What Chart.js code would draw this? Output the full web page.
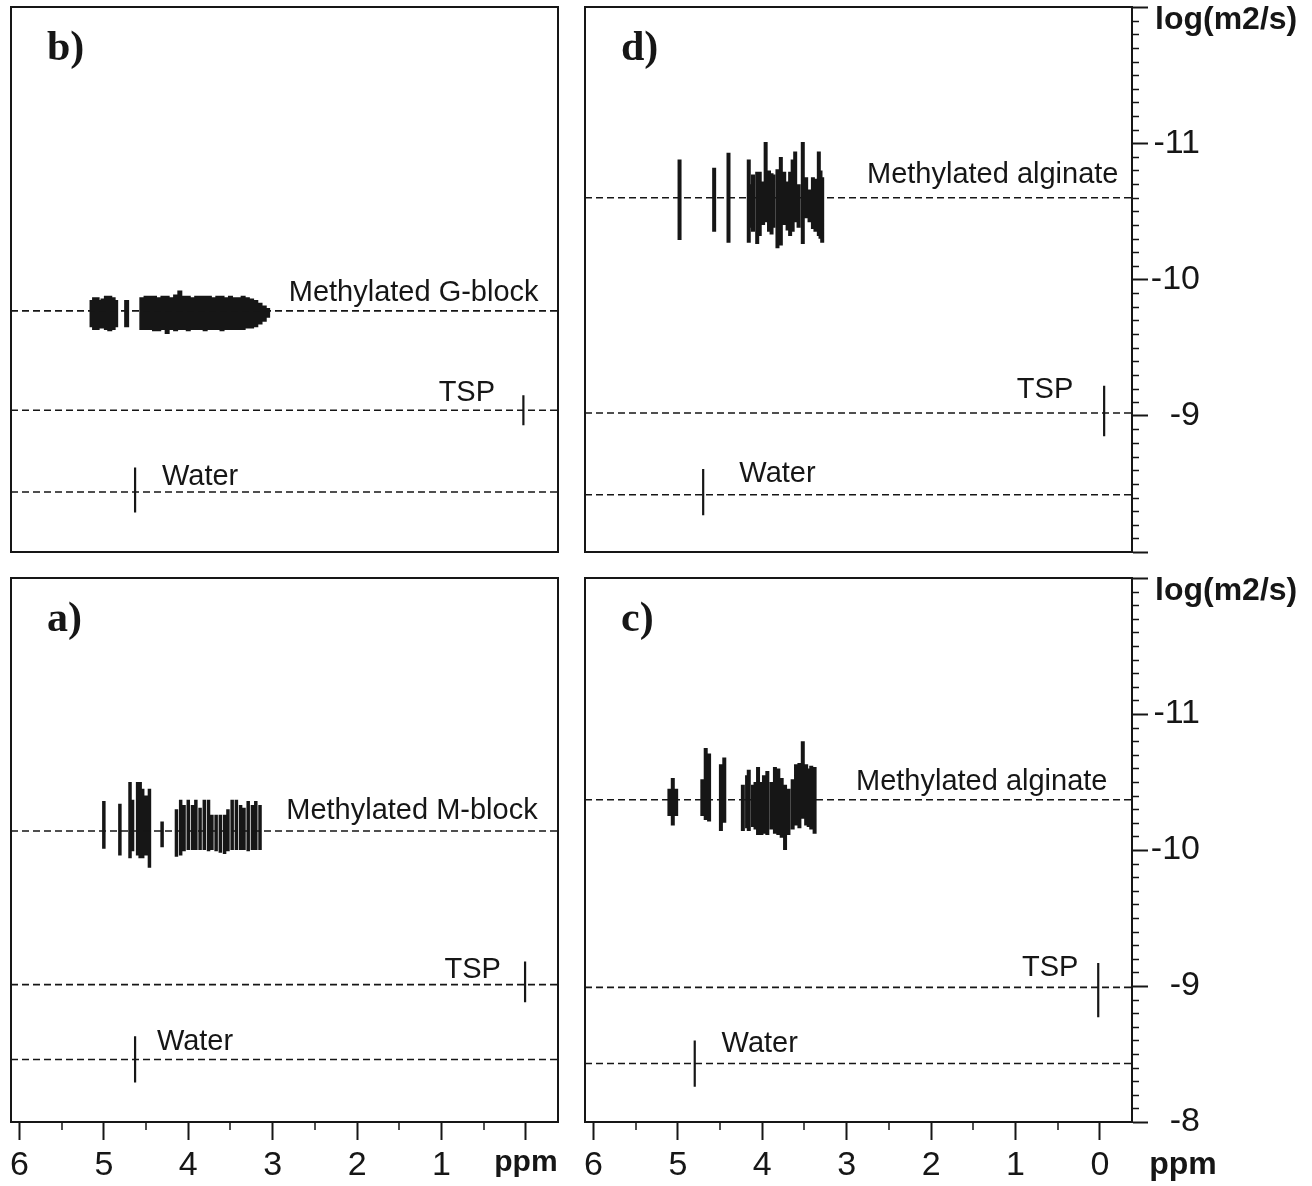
<!DOCTYPE html>
<html>
<head>
<meta charset="utf-8">
<script src="https://cdn.jsdelivr.net/npm/chart.js@4.4.0/dist/chart.umd.min.js"></script>
<style>
  html, body { margin: 0; padding: 0; background: #fff; }
  #wrap { position: relative; width: 1312px; height: 1186px; overflow: hidden; background: #fff; }
  canvas { position: absolute; }
</style>
</head>
<body>
<div id="wrap">
  <canvas id="panelB" width="580" height="590" style="left:0;top:-20px"></canvas>
  <canvas id="panelD" width="740" height="600" style="left:572px;top:-20px"></canvas>
  <canvas id="panelA" width="580" height="636" style="left:0;top:550px"></canvas>
  <canvas id="panelC" width="740" height="636" style="left:572px;top:550px"></canvas>
</div>
<script>
// ---------- axes ----------
const PPM_MIN = -0.38, PPM_MAX = 6.1;
const LOGD_MIN = -12, LOGD_MAX = -8;
const MINOR_PPM = [0.5, 1.5, 2.5, 3.5, 4.5, 5.5];

// ---------- b) methylated G-block ----------
const bPpm = [5.14, 5.11, 5.08, 5.05, 5.01, 4.97, 4.93, 4.89, 4.86, 4.73,
  4.55, 4.50, 4.45, 4.40, 4.35, 4.30, 4.25, 4.20, 4.15, 4.10, 4.05, 4.00, 3.95, 3.90, 3.85,
  3.80, 3.75, 3.70, 3.65, 3.60, 3.55, 3.50, 3.45, 3.40, 3.35, 3.30, 3.25, 3.20, 3.15, 3.10, 3.06];
const bTop = [-9.85, -9.87, -9.87, -9.85, -9.86, -9.88, -9.88, -9.87, -9.85, -9.85,
  -9.87, -9.88, -9.88, -9.88, -9.87, -9.88, -9.88, -9.87, -9.89, -9.92, -9.88, -9.88, -9.87, -9.88, -9.88,
  -9.88, -9.88, -9.87, -9.88, -9.88, -9.87, -9.88, -9.87, -9.87, -9.88, -9.87, -9.86, -9.85, -9.83, -9.81, -9.79];
const bBottom = [-9.65, -9.63, -9.63, -9.64, -9.64, -9.63, -9.62, -9.63, -9.65, -9.65,
  -9.63, -9.63, -9.63, -9.62, -9.62, -9.63, -9.60, -9.63, -9.62, -9.63, -9.63, -9.62, -9.63, -9.63, -9.63,
  -9.62, -9.63, -9.63, -9.63, -9.62, -9.63, -9.63, -9.63, -9.63, -9.63, -9.64, -9.64, -9.65, -9.67, -9.69, -9.72];
const bLevels = [-9.77, -9.04, -8.44];
const bRefPpm = [0.03, 4.63];
const bRefTop = [-9.15, -8.62];
const bRefBottom = [-8.93, -8.29];
const bLabels = ["Methylated G-block", "TSP", "Water"];
const bLabelPpm = [1.33, 0.70, 3.86];
const bLabelLogD = [-9.90, -9.17, -8.55];

// ---------- a) methylated M-block ----------
const aPpm = [5.00, 4.81, 4.69, 4.66, 4.60, 4.57, 4.54, 4.50, 4.46, 4.31,
  4.14, 4.09, 4.05, 4.00, 3.95, 3.91, 3.86, 3.81, 3.76, 3.72, 3.67,
  3.62, 3.57, 3.53, 3.48, 3.43, 3.38, 3.34, 3.29, 3.24, 3.20, 3.15];
const aTop = [-10.36, -10.34, -10.50, -10.37, -10.50, -10.50, -10.45, -10.40, -10.45, -10.21,
  -10.30, -10.37, -10.33, -10.37, -10.33, -10.37, -10.31, -10.37, -10.37, -10.26, -10.26,
  -10.26, -10.26, -10.30, -10.37, -10.37, -10.33, -10.31, -10.36, -10.33, -10.36, -10.33];
const aBottom = [-10.01, -9.96, -9.94, -9.99, -9.96, -9.94, -9.94, -9.96, -9.87, -10.02,
  -9.95, -9.96, -9.99, -10.00, -10.00, -10.00, -10.00, -10.00, -9.99, -10.00, -9.99,
  -9.98, -9.97, -9.99, -10.00, -10.00, -10.00, -10.00, -9.99, -10.00, -10.00, -10.00];
const aLevels = [-10.14, -9.01, -8.46];
const aRefPpm = [0.01, 4.63];
const aRefTop = [-9.18, -8.63];
const aRefBottom = [-8.88, -8.29];
const aLabels = ["Methylated M-block", "TSP", "Water"];
const aLabelPpm = [1.35, 0.63, 3.92];
const aLabelLogD = [-10.29, -9.12, -8.59];

// ---------- d) methylated alginate ----------
const dPpm = [4.98, 4.57, 4.40, 4.16, 4.13, 4.11, 4.06, 4.03, 3.99, 3.96, 3.92, 3.89, 3.87, 3.82, 3.80,
  3.78, 3.74, 3.70, 3.67, 3.64, 3.61, 3.57, 3.52, 3.48, 3.44, 3.40, 3.37, 3.33, 3.31, 3.29];
const dTop = [-10.88, -10.82, -10.93, -10.88, -10.70, -10.77, -10.79, -10.79, -10.72, -11.01, -10.80, -10.78, -10.77, -10.81, -10.75,
  -10.90, -10.79, -10.72, -10.79, -10.88, -10.94, -10.70, -11.01, -10.75, -10.66, -10.75, -10.74, -10.94, -10.80, -10.75];
const dBottom = [-10.29, -10.35, -10.27, -10.27, -10.38, -10.35, -10.26, -10.32, -10.40, -10.42, -10.35, -10.33, -10.38, -10.23, -10.30,
  -10.25, -10.40, -10.36, -10.32, -10.35, -10.42, -10.38, -10.26, -10.45, -10.42, -10.37, -10.35, -10.32, -10.30, -10.27];
const dLevels = [-10.60, -9.02, -8.42];
const dRefPpm = [-0.05, 4.70];
const dRefTop = [-9.22, -8.61];
const dRefBottom = [-8.85, -8.27];
const dLabels = ["Methylated alginate", "TSP", "Water"];
const dLabelPpm = [1.27, 0.65, 3.82];
const dLabelLogD = [-10.77, -9.19, -8.57];

// ---------- c) methylated alginate ----------
const cPpm = [5.10, 5.06, 5.02, 4.71, 4.67, 4.63, 4.49, 4.45,
  4.23, 4.18, 4.16, 4.11, 4.08, 4.05, 4.01, 3.98, 3.94, 3.89, 3.85, 3.81, 3.77, 3.73, 3.69,
  3.64, 3.60, 3.56, 3.52, 3.48, 3.45, 3.42, 3.38];
const cTop = [-10.45, -10.53, -10.45, -10.52, -10.75, -10.71, -10.63, -10.68,
  -10.48, -10.55, -10.59, -10.48, -10.50, -10.61, -10.50, -10.55, -10.58, -10.50, -10.61, -10.60, -10.53, -10.48, -10.45,
  -10.52, -10.63, -10.64, -10.80, -10.63, -10.60, -10.62, -10.61];
const cBottom = [-10.25, -10.18, -10.25, -10.25, -10.22, -10.21, -10.14, -10.20,
  -10.14, -10.16, -10.14, -10.17, -10.15, -10.11, -10.11, -10.12, -10.11, -10.15, -10.12, -10.11, -10.09, -10.00, -10.11,
  -10.15, -10.18, -10.16, -10.23, -10.18, -10.17, -10.15, -10.12];
const cLevels = [-10.37, -8.99, -8.43];
const cRefPpm = [0.02, 4.80];
const cRefTop = [-9.17, -8.60];
const cRefBottom = [-8.77, -8.26];
const cLabels = ["Methylated alginate", "TSP", "Water"];
const cLabelPpm = [1.40, 0.59, 4.03];
const cLabelLogD = [-10.50, -9.13, -8.57];

// ---------- helpers ----------
const INK = "#161616";
const SANS = '"Liberation Sans", Arial, Helvetica, sans-serif';
const SERIF = '"Liberation Serif", "Times New Roman", serif';

const MINOR_LOGD = [];
for (let k = LOGD_MIN * 10 + 1; k < LOGD_MAX * 10; k++) {
  if (k % 10 !== 0) MINOR_LOGD.push(k / 10);
}

// vertical stroke per peak, broken by nulls
function peakSegments(ppm, top, bottom) {
  const pts = [];
  ppm.forEach((p, i) => {
    pts.push({ x: p, y: top[i] }, { x: p, y: bottom[i] }, { x: p, y: null });
  });
  return pts;
}

// dashed diffusion levels across the whole panel
function levelSegments(levels) {
  const pts = [];
  levels.forEach(v => {
    pts.push({ x: PPM_MAX, y: v }, { x: PPM_MIN, y: v }, { x: PPM_MIN, y: null });
  });
  return pts;
}

function panelDecor(opt) {
  return {
    id: "decor",
    afterDraw(chart) {
      const { ctx, chartArea: a } = chart;
      const x = chart.scales.x, y = chart.scales.y;
      ctx.save();
      ctx.strokeStyle = INK;
      ctx.fillStyle = INK;

      // frame
      ctx.lineWidth = 2;
      ctx.strokeRect(a.left, a.top, a.right - a.left, a.bottom - a.top);

      // peak names
      ctx.font = "29px " + SANS;
      ctx.textAlign = "center";
      ctx.textBaseline = "middle";
      opt.labels.forEach((t, i) => {
        ctx.fillText(t, x.getPixelForValue(opt.labelPpm[i]), y.getPixelForValue(opt.labelLogD[i]));
      });

      // panel letter
      ctx.font = "bold 42px " + SERIF;
      ctx.textAlign = "left";
      ctx.fillText(opt.letter, a.left + 36, a.top + 42);

      // minor ticks
      ctx.lineWidth = 1.5;
      ctx.beginPath();
      if (opt.showX) {
        MINOR_PPM.forEach(v => {
          const px = Math.round(x.getPixelForValue(v));
          ctx.moveTo(px, a.bottom);
          ctx.lineTo(px, a.bottom + 8);
        });
      }
      if (opt.showY) {
        MINOR_LOGD.forEach(v => {
          const py = Math.round(y.getPixelForValue(v)) + 0.5;
          ctx.moveTo(a.right, py);
          ctx.lineTo(a.right + 7, py);
        });
      }
      ctx.stroke();

      // axis units
      if (opt.showY) {
        ctx.font = "bold 32px " + SANS;
        ctx.textAlign = "left";
        ctx.fillText("log(m2/s)", a.right + 23, a.top + 13);
      }
      if (opt.ppmRight) {
        ctx.font = "bold 32px " + SANS;
        ctx.textAlign = "center";
        ctx.fillText("ppm", a.right + 51, a.bottom + 18 + 5 + 20);
      }
      ctx.restore();
    }
  };
}

function makePanel(id, opt) {
  const ctx = document.getElementById(id).getContext("2d");
  const plain = { family: SANS, size: 34 };
  const bold = { family: SANS, size: 30, weight: "bold" };
  return new Chart(ctx, {
    type: "line",
    data: {
      datasets: [
        {
          data: levelSegments(opt.levels),
          borderColor: INK, borderWidth: 1.6, borderDash: [7, 4],
          pointRadius: 0, spanGaps: false
        },
        {
          data: peakSegments(opt.ppm, opt.top, opt.bottom),
          borderColor: INK, borderWidth: opt.peakWidth,
          pointRadius: 0, spanGaps: false
        },
        {
          data: peakSegments(opt.refPpm, opt.refTop, opt.refBottom),
          borderColor: INK, borderWidth: 2.2,
          pointRadius: 0, spanGaps: false
        }
      ]
    },
    options: {
      responsive: false,
      animation: false,
      events: [],
      layout: { padding: opt.padding },
      plugins: { legend: { display: false }, tooltip: { enabled: false } },
      scales: {
        x: {
          type: "linear", min: PPM_MIN, max: PPM_MAX, reverse: true,
          display: opt.showX,
          ticks: {
            stepSize: 1, includeBounds: false, maxRotation: 0, autoSkip: false,
            padding: 5, color: INK,
            font: c => (opt.ppmAtZero && c.tick && c.tick.value === 0) ? bold : plain,
            callback: v => (opt.ppmAtZero && v === 0) ? "ppm" : String(v)
          },
          grid: { drawOnChartArea: false, drawTicks: true, tickLength: 18, tickWidth: 2, tickColor: INK },
          border: { display: true, color: INK, width: 2 },
          afterFit: opt.showX ? s => { s.height = 64; } : undefined
        },
        y: {
          type: "linear", min: LOGD_MIN, max: LOGD_MAX, reverse: true,
          position: "right",
          display: opt.showY,
          ticks: {
            stepSize: 1, padding: 2, crossAlign: "far", color: INK, font: plain,
            callback: v => (v === LOGD_MIN || (!opt.labelMinus8 && v === LOGD_MAX)) ? "" : String(v)
          },
          grid: { drawOnChartArea: false, drawTicks: true, tickLength: 16, tickWidth: 2, tickColor: INK },
          border: { display: true, color: INK, width: 2 },
          afterFit: opt.showY ? s => { s.width = 68; } : undefined
        }
      }
    },
    plugins: [panelDecor(opt)]
  });
}

makePanel("panelB", {
  letter: "b)", ppm: bPpm, top: bTop, bottom: bBottom, peakWidth: 5,
  levels: bLevels, refPpm: bRefPpm, refTop: bRefTop, refBottom: bRefBottom,
  labels: bLabels, labelPpm: bLabelPpm, labelLogD: bLabelLogD,
  showX: false, showY: false,
  padding: { left: 11, top: 27, right: 22, bottom: 18 }
});

makePanel("panelD", {
  letter: "d)", ppm: dPpm, top: dTop, bottom: dBottom, peakWidth: 4,
  levels: dLevels, refPpm: dRefPpm, refTop: dRefTop, refBottom: dRefBottom,
  labels: dLabels, labelPpm: dLabelPpm, labelLogD: dLabelLogD,
  showX: false, showY: true, labelMinus8: false,
  padding: { left: 13, top: 27, right: 112, bottom: 28 }
});

makePanel("panelA", {
  letter: "a)", ppm: aPpm, top: aTop, bottom: aBottom, peakWidth: 3.5,
  levels: aLevels, refPpm: aRefPpm, refTop: aRefTop, refBottom: aRefBottom,
  labels: aLabels, labelPpm: aLabelPpm, labelLogD: aLabelLogD,
  showX: true, showY: false, ppmAtZero: true,
  padding: { left: 11, top: 28, right: 22, bottom: 0 }
});

makePanel("panelC", {
  letter: "c)", ppm: cPpm, top: cTop, bottom: cBottom, peakWidth: 4,
  levels: cLevels, refPpm: cRefPpm, refTop: cRefTop, refBottom: cRefBottom,
  labels: cLabels, labelPpm: cLabelPpm, labelLogD: cLabelLogD,
  showX: true, showY: true, labelMinus8: true, ppmRight: true,
  padding: { left: 13, top: 28, right: 112, bottom: 0 }
});
</script>
</body>
</html>
